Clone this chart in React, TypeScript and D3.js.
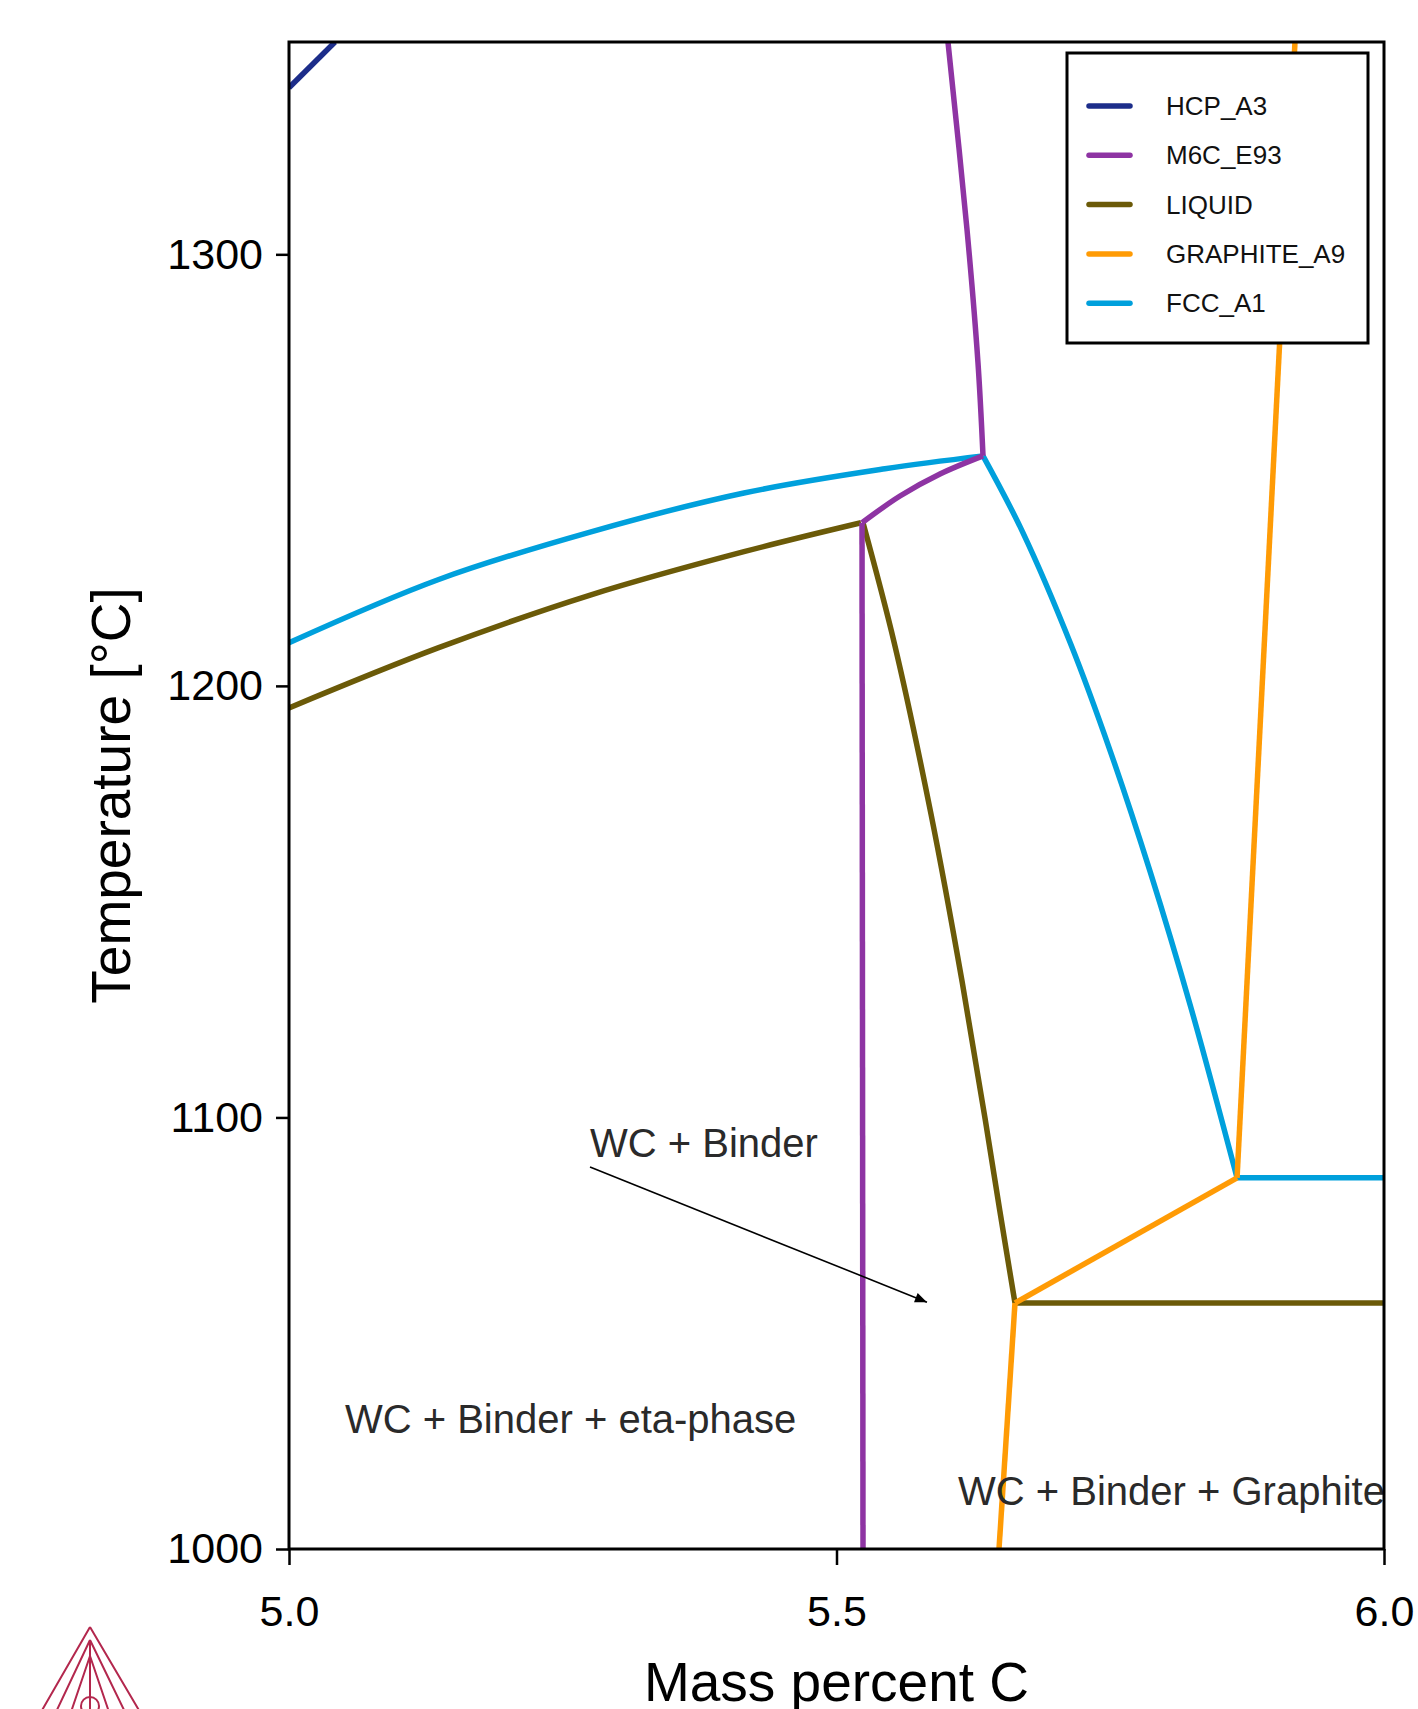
import React, { useEffect, useRef } from 'react';
import * as d3 from 'd3';

// phase boundaries, [mass % C, temperature °C], one array per segment
const HCP_A3 = [
  [[5.0, 1338.6], [5.042, 1349.2]],
];
const M6C_E93 = [
  [[5.6018, 1349.2], [5.6192, 1305.7], [5.6292, 1274.9], [5.6338, 1253.3]],
  [[5.6338, 1253.3], [5.5945, 1249.1], [5.558, 1244.0], [5.5233, 1237.8]],
  [[5.5233, 1237.8], [5.5242, 1000]],
];
const LIQUID = [
  [[5.0, 1194.9], [5.1361, 1208.8], [5.2758, 1221.1], [5.4155, 1231.1], [5.5224, 1237.8]],
  [[5.5242, 1237.8], [5.553, 1209.7], [5.5863, 1170.3], [5.6149, 1131.2], [5.6359, 1099.4], [5.649, 1078.6], [5.663, 1057.0]],
  [[5.663, 1057.0], [6.0, 1057.0]],
];
const GRAPHITE_A9 = [
  [[5.9187, 1349.2], [5.8658, 1086.0]],
  [[5.8658, 1086.0], [5.663, 1057.0]],
  [[5.663, 1057.0], [5.6484, 1000]],
];
const FCC_A1 = [
  [[5.0, 1210.0], [5.1361, 1224.6], [5.2758, 1235.7], [5.4155, 1244.7], [5.5443, 1250.3], [5.6338, 1253.3]],
  [[5.6338, 1253.3], [5.6699, 1235.7], [5.7139, 1209.7], [5.75, 1184.9], [5.7865, 1156.9], [5.8235, 1125.6], [5.8658, 1086.0]],
  [[5.8658, 1086.0], [6.0, 1086.0]],
];

const phaseNames = ['HCP_A3', 'M6C_E93', 'LIQUID', 'GRAPHITE_A9', 'FCC_A1'];
const phaseColors = ['#1c2d8a', '#8e34a3', '#6b5a08', '#ff9b05', '#00a0dc'];
const phaseData = [HCP_A3, M6C_E93, LIQUID, GRAPHITE_A9, FCC_A1];
const drawOrder = [4, 2, 3, 1, 0];

const xTicks = [5.0, 5.5, 6.0];
const yTicks = [1000, 1100, 1200, 1300];
const xDomain = [5.0, 6.0];
const yDomain = [1000, 1349.2];

const regionLabels = [
  { text: 'WC + Binder', x: 5.2749, t: 1090.8 },
  { text: 'WC + Binder + eta-phase', x: 5.0511, t: 1026.9 },
  { text: 'WC + Binder + Graphite', x: 5.611, t: 1010.2 },
];
const arrowFrom = [5.2749, 1088.5];
const arrowTo = [5.5826, 1057.2];

const FONT = '"Liberation Sans", Arial, Helvetica, sans-serif';

export default function App() {
  const xAxisRef = useRef(null);
  const yAxisRef = useRef(null);

  const W = 1418, H = 1709;
  const margin = { top: 42, right: 34, bottom: 160, left: 289 };
  const width = W - margin.left - margin.right;
  const height = H - margin.top - margin.bottom;

  const x = d3.scaleLinear().domain(xDomain).range([0, width]);
  const y = d3.scaleLinear().domain(yDomain).range([height, 0]);

  const line = d3.line()
    .x(d => x(d[0]))
    .y(d => y(d[1]))
    .curve(d3.curveCatmullRom.alpha(0.5));

  useEffect(() => {
    const gx = d3.select(xAxisRef.current);
    gx.selectAll('*').remove();
    gx.call(d3.axisBottom(x).tickValues(xTicks).tickFormat(d3.format('.1f')).tickSize(16).tickPadding(30));
    gx.select('.domain').remove();
    gx.selectAll('line').attr('stroke', '#000').attr('stroke-width', 2.5);
    gx.selectAll('text').attr('font-size', 43).attr('font-family', FONT).attr('fill', '#000');

    const gy = d3.select(yAxisRef.current);
    gy.selectAll('*').remove();
    gy.call(d3.axisLeft(y).tickValues(yTicks).tickFormat(d3.format('d')).tickSize(13).tickPadding(13));
    gy.select('.domain').remove();
    gy.selectAll('line').attr('stroke', '#000').attr('stroke-width', 2.5);
    gy.selectAll('text').attr('font-size', 43).attr('font-family', FONT).attr('fill', '#000');
  }, []);

  const legend = { right: 16, top: 11, w: 301, h: 290, rowH: 49.3, firstRow: 53 };

  return (
    <svg width={W} height={H} style={{ position: 'absolute', left: 0, top: 0, background: '#fff' }}
      fontFamily={FONT}>
      <defs>
        <clipPath id="plotClip">
          <rect x={0} y={0} width={width} height={height} />
        </clipPath>
        <marker id="arrowHead" viewBox="0 0 12 10" refX="12" refY="5" markerWidth="13" markerHeight="10"
          markerUnits="userSpaceOnUse" orient="auto">
          <path d="M0,0 L12,5 L0,10 z" fill="#000" />
        </marker>
      </defs>
      <g transform={`translate(${margin.left},${margin.top})`}>
        <g clipPath="url(#plotClip)">
          {drawOrder.map(i => phaseData[i].map((seg, j) => (
            <path key={`${i}-${j}`} d={line(seg)} fill="none" stroke={phaseColors[i]}
              strokeWidth={5.5} strokeLinejoin="round" strokeLinecap="butt" />
          )))}
        </g>

        <line x1={x(arrowFrom[0])} y1={y(arrowFrom[1])} x2={x(arrowTo[0])} y2={y(arrowTo[1])}
          stroke="#000" strokeWidth={1.6} markerEnd="url(#arrowHead)" />
        {regionLabels.map(l => (
          <text key={l.text} x={x(l.x)} y={y(l.t)} fontSize={40} fill="#2a2a2a">{l.text}</text>
        ))}

        <rect x={0} y={0} width={width} height={height} fill="none" stroke="#000" strokeWidth={3} />
        <g ref={xAxisRef} transform={`translate(0,${height})`} />
        <g ref={yAxisRef} />

        <g transform={`translate(${width - legend.right - legend.w},${legend.top})`}>
          <rect x={0} y={0} width={legend.w} height={legend.h} fill="#fff" stroke="#000" strokeWidth={3} />
          {phaseNames.map((name, i) => (
            <g key={name} transform={`translate(0,${legend.firstRow + i * legend.rowH})`}>
              <line x1={22} x2={63} y1={0} y2={0} stroke={phaseColors[i]} strokeWidth={5.5} strokeLinecap="round" />
              <text x={99} y={9} fontSize={26} fill="#111">{name}</text>
            </g>
          ))}
        </g>

        <text x={width / 2} y={height + 152} textAnchor="middle" fontSize={55} fill="#000">Mass percent C</text>
        <text transform={`translate(${130 - margin.left},${height / 2}) rotate(-90)`} textAnchor="middle"
          fontSize={55} fill="#000">Temperature [°C]</text>
      </g>

      {/* Thermo-Calc logo, cut off at the page bottom */}
      <g fill="none" stroke="#b3274d" strokeWidth={2}>
        <path d="M90,1627 L41,1712 M90,1627 L140,1712" />
        <path d="M90,1640 L56,1712 M90,1640 L125,1712" />
        <path d="M90,1656 L71,1712 M90,1656 L109,1712" />
        <path d="M90,1640 L90,1712" />
        <circle cx={90} cy={1706} r={9} />
      </g>
    </svg>
  );
}
